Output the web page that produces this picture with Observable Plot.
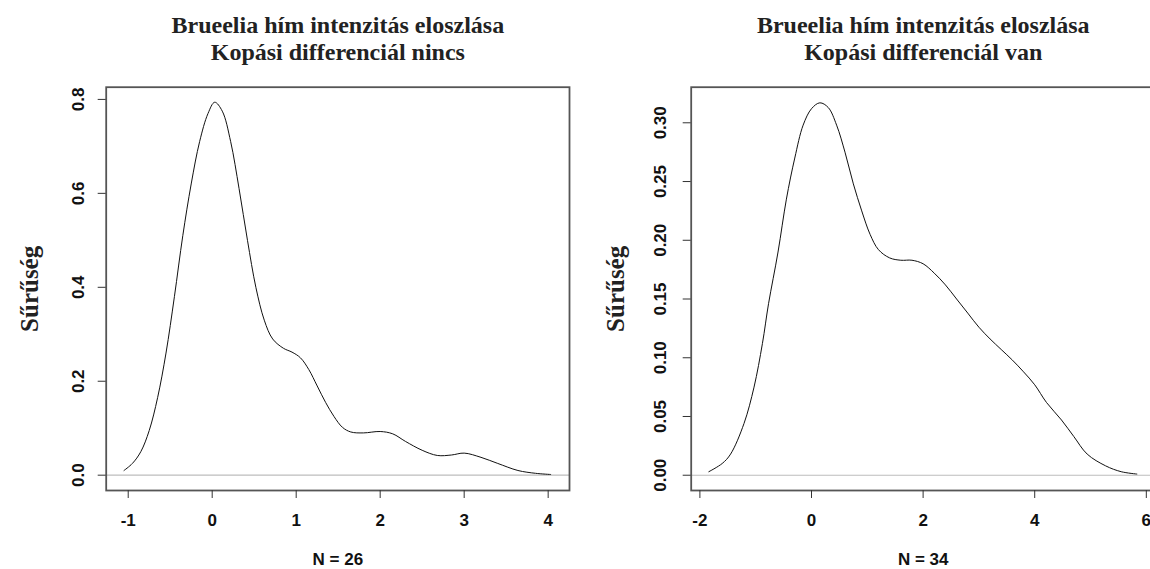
<!DOCTYPE html>
<html>
<head>
<meta charset="utf-8">
<script src="https://cdn.jsdelivr.net/npm/d3@7"></script>
<script src="https://cdn.jsdelivr.net/npm/@observablehq/plot@0.6"></script>
<style>
  html, body { margin: 0; padding: 0; background: #fff; }
  #wrap { position: relative; width: 1150px; height: 569px; overflow: hidden; background: #fff; }
  .panel { position: absolute; top: 0; }
</style>
</head>
<body>
<div id="wrap">
  <div id="left" class="panel" style="left:0px;width:575px;"></div>
  <div id="right" class="panel" style="left:575px;width:585px;"></div>
</div>
<script>
// ---------- data ----------
const titleLine1 = "Brueelia hím intenzitás eloszlása";
const leftSubtitle = "Kopási differenciál nincs";
const rightSubtitle = "Kopási differenciál van";
const yLabel = "Sűrűség";
const leftN = "N = 26";
const rightN = "N = 34";

const leftX = [-1.05, -0.95, -0.85, -0.75, -0.65, -0.55, -0.45, -0.35, -0.25, -0.15, -0.05, 0.03, 0.12, 0.22, 0.32, 0.42, 0.52, 0.62, 0.72, 0.85, 0.95, 1.05, 1.15, 1.25, 1.35, 1.45, 1.55, 1.65, 1.8, 2.0, 2.15, 2.3, 2.5, 2.68, 2.85, 3.0, 3.2, 3.4, 3.64, 3.85, 4.03];
const leftY = [0.01, 0.025, 0.05, 0.095, 0.165, 0.26, 0.38, 0.51, 0.62, 0.71, 0.77, 0.794, 0.775, 0.71, 0.61, 0.5, 0.4, 0.33, 0.29, 0.27, 0.262, 0.25, 0.225, 0.19, 0.155, 0.125, 0.102, 0.092, 0.09, 0.093, 0.088, 0.072, 0.053, 0.042, 0.043, 0.047, 0.038, 0.025, 0.01, 0.004, 0.0015];

const rightX = [-1.84, -1.6, -1.45, -1.21, -1.03, -0.88, -0.77, -0.6, -0.45, -0.3, -0.15, 0, 0.15, 0.3, 0.45, 0.6, 0.75, 0.9, 1.05, 1.2, 1.4, 1.6, 1.8, 2.0, 2.2, 2.4, 2.6, 2.8, 3.0, 3.2, 3.4, 3.6, 3.8, 4.0, 4.21, 4.48, 4.7, 4.94, 5.27, 5.55, 5.83];
const rightY = [0.003, 0.01, 0.018, 0.044, 0.075, 0.112, 0.146, 0.19, 0.235, 0.27, 0.298, 0.312, 0.317, 0.313, 0.298, 0.275, 0.248, 0.225, 0.205, 0.192, 0.185, 0.183, 0.183, 0.18, 0.172, 0.162, 0.15, 0.138, 0.126, 0.116, 0.107, 0.098, 0.088, 0.077, 0.062, 0.047, 0.033, 0.018, 0.008, 0.003, 0.001];

const leftXTicks = [-1, 0, 1, 2, 3, 4];
const leftYTicks = [0, 0.2, 0.4, 0.6, 0.8];
const leftYTickLabels = ["0.0", "0.2", "0.4", "0.6", "0.8"];
const rightXTicks = [-2, 0, 2, 4, 6];
const rightYTicks = [0, 0.05, 0.10, 0.15, 0.20, 0.25, 0.30];
const rightYTickLabels = ["0.00", "0.05", "0.10", "0.15", "0.20", "0.25", "0.30"];

// ---------- drawing ----------
const SANS = "'Liberation Sans', Arial, sans-serif";
const SERIF = "'Liberation Serif', 'Times New Roman', serif";

function panel({width, xs, ys, xDomain, yDomain, xTicks, yTicks, yTickLabels, subtitle, n, mLeft, mRight, ylabDx, ytickDx}) {
  const data = xs.map((x, i) => ({x, y: ys[i]}));
  const mTop = 86.7, mBottom = 569 - 490;
  return Plot.plot({
    width, height: 569,
    marginLeft: mLeft, marginRight: mRight, marginTop: mTop, marginBottom: mBottom,
    x: {domain: xDomain},
    y: {domain: yDomain},
    style: {fontFamily: SANS, fontSize: "17px", color: "#111", background: "#fff"},
    marks: [
      Plot.ruleY([0], {stroke: "#bdbdbd", strokeWidth: 1.2}),
      Plot.line(data, {x: "x", y: "y", stroke: "#111", strokeWidth: 1, curve: "catmull-rom"}),
      Plot.frame({stroke: "#555", strokeWidth: 1.8}),
      Plot.axisX(xTicks, {label: null, tickSize: 8, tickPadding: 15, fontSize: 17, fontWeight: "bold", stroke: "#333", tickFormat: d => String(d)}),
      Plot.axisY(yTicks, {label: null, tickSize: 8, stroke: "#333", tickFormat: () => ""}),
      Plot.text(yTicks, {y: d => d, text: (d, i) => yTickLabels[i], frameAnchor: "left", dx: ytickDx, rotate: -90, lineAnchor: "bottom", textAnchor: "middle", fontSize: 17, fontWeight: "bold", fill: "#111"}),
      Plot.text([titleLine1], {frameAnchor: "top", dy: 33 - mTop, lineAnchor: "bottom", fontFamily: SERIF, fontWeight: "bold", fontSize: 24, fill: "#222"}),
      Plot.text([subtitle], {frameAnchor: "top", dy: 60 - mTop, lineAnchor: "bottom", fontFamily: SERIF, fontWeight: "bold", fontSize: 24, fill: "#222"}),
      Plot.text([yLabel], {frameAnchor: "left", dx: ylabDx, rotate: -90, lineAnchor: "bottom", textAnchor: "middle", fontFamily: SERIF, fontWeight: "bold", fontSize: 25, fill: "#222"}),
      Plot.text([n], {frameAnchor: "bottom", dy: 564 - 490, lineAnchor: "bottom", fontSize: 17, fontWeight: "bold", fill: "#111"})
    ]
  });
}

document.getElementById("left").appendChild(panel({
  width: 575, xs: leftX, ys: leftY,
  xDomain: [-1.262, 4.254], yDomain: [-0.0326, 0.826],
  xTicks: leftXTicks, yTicks: leftYTicks, yTickLabels: leftYTickLabels,
  subtitle: leftSubtitle, n: leftN,
  mLeft: 105.7, mRight: 6, ylabDx: 37 - 105.7, ytickDx: -22.7
}));

document.getElementById("right").appendChild(panel({
  width: 585, xs: rightX, ys: rightY,
  xDomain: [-2.156, 6.161], yDomain: [-0.013, 0.3303],
  xTicks: rightXTicks, yTicks: rightYTicks, yTickLabels: rightYTickLabels,
  subtitle: rightSubtitle, n: rightN,
  mLeft: 115.7, mRight: 5.2, ylabDx: 624 - 690.7, ytickDx: -24.7
}));
</script>
</body>
</html>
